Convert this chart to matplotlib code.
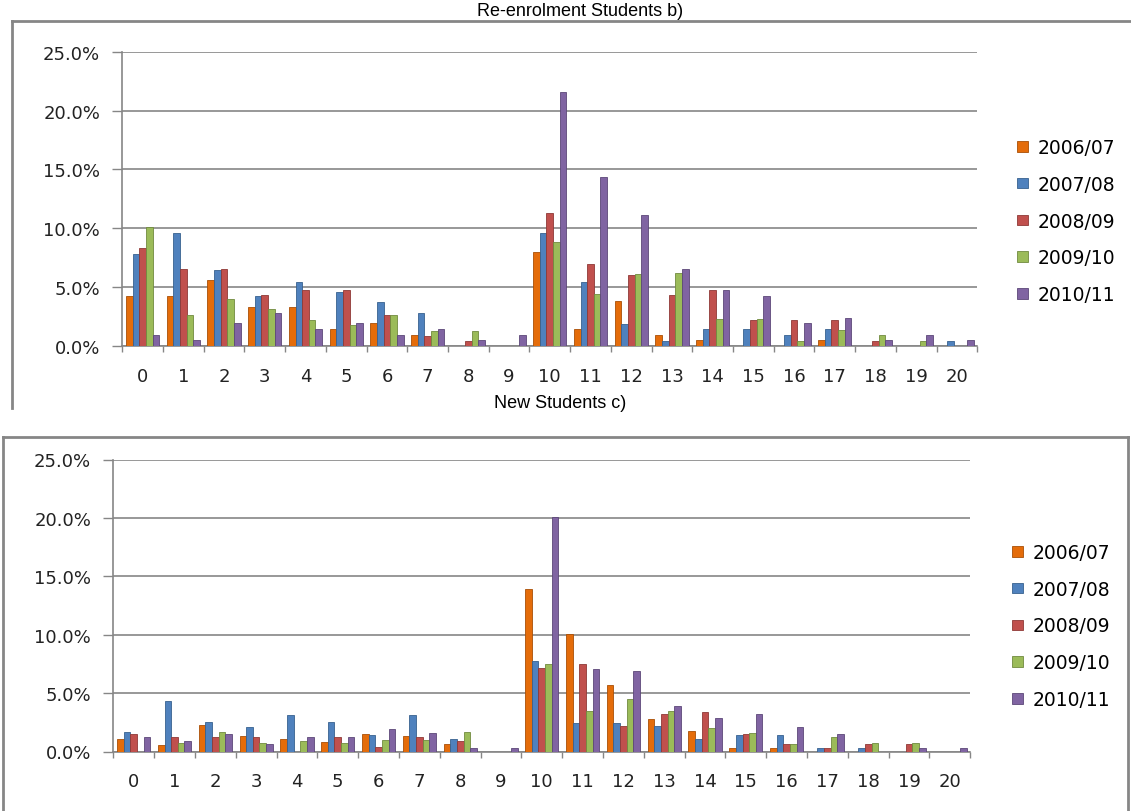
import numpy as np
import matplotlib.pyplot as plt
from matplotlib.patches import Patch
from matplotlib.lines import Line2D

# periodos y colores
years = ["2006/07", "2007/08", "2008/09", "2009/10", "2010/11"]
colors = ["#E46C0A", "#4F81BD", "#C0504D", "#9BBB59", "#8064A2"]
edges = ["#A94F06", "#38618F", "#8E3936", "#718A3F", "#5C4778"]
cats = list(range(21))

# b) Re-enrolment Students (%)
re_0607 = [4.2, 4.2, 5.55, 3.3, 3.3, 1.38, 1.9, 0.89, 0, 0, 7.96, 1.38, 3.79, 0.89, 0.52, 0, 0, 0.52, 0, 0, 0]
re_0708 = [7.84, 9.6, 6.47, 4.22, 5.46, 4.57, 3.7, 2.82, 0, 0, 9.63, 5.46, 1.81, 0.37, 1.44, 1.44, 0.95, 1.44, 0, 0, 0.43]
re_0809 = [8.28, 6.55, 6.55, 4.31, 4.74, 4.74, 2.62, 0.8, 0.37, 0, 11.3, 6.95, 6.03, 4.35, 4.78, 2.22, 2.22, 2.22, 0.43, 0, 0]
re_0910 = [10.1, 2.64, 3.97, 3.13, 2.2, 1.72, 2.61, 1.26, 1.26, 0, 8.79, 4.37, 6.12, 6.15, 2.3, 2.3, 0.43, 1.35, 0.92, 0.43, 0]
re_1011 = [0.89, 0.46, 1.9, 2.82, 1.38, 1.9, 0.89, 1.38, 0.46, 0.89, 21.6, 14.37, 11.09, 6.51, 4.7, 4.26, 1.93, 2.36, 0.52, 0.92, 0.52]

# c) New Students (%)
new_0607 = [1.06, 0.54, 2.31, 1.29, 1.06, 0.8, 1.54, 1.34, 0.6, 0, 13.92, 10.04, 5.68, 2.74, 1.79, 0.31, 0.31, 0, 0, 0, 0]
new_0708 = [1.63, 4.34, 2.51, 2.14, 3.11, 2.51, 1.37, 3.14, 1.08, 0, 7.79, 2.4, 2.4, 2.17, 1.05, 1.37, 1.37, 0.31, 0.31, 0, 0]
new_0809 = [1.54, 1.26, 1.2, 1.2, 0, 1.26, 0.37, 1.26, 0.91, 0, 7.13, 7.48, 2.17, 3.2, 3.42, 1.54, 0.63, 0.31, 0.63, 0.63, 0]
new_0910 = [0, 0.74, 1.63, 0.71, 0.94, 0.71, 1.0, 1.0, 1.65, 0, 7.48, 3.48, 4.5, 3.45, 1.97, 1.62, 0.63, 1.28, 0.71, 0.71, 0]
new_1011 = [1.2, 0.94, 1.54, 0.63, 1.2, 1.2, 1.9, 1.57, 0.34, 0.34, 20.11, 7.1, 6.85, 3.87, 2.91, 3.25, 2.11, 1.54, 0, 0.31, 0.31]

W, H = 1131, 812
GRAY = "#868686"
plt.rcParams["font.family"] = ["DejaVu Sans"]

fig = plt.figure(figsize=(W / 100, H / 100), dpi=100)

def fx(px):
    return px / W

def fy(py):
    return 1 - py / H

def draw(ax, series, leg_x, leg_y):
    x = np.arange(len(cats))
    bw = 0.163
    for k, vals in enumerate(series):
        ax.bar(x + (k - 2) * bw, vals, bw, color=colors[k], edgecolor=edges[k], linewidth=0.6, zorder=3)
    ax.set_xlim(-0.5, 20.5)
    ax.set_ylim(0, 25)
    ax.set_yticks(np.arange(0, 26, 5))
    ax.set_yticklabels([f"{v:.1f}%" for v in np.arange(0, 26, 5)], fontsize=13, color="#222222")
    ax.yaxis.grid(True, color=GRAY, linewidth=1.2, zorder=0)
    ax.tick_params(axis="y", length=7, width=1, color=GRAY, pad=9)
    ax.set_xticks(np.arange(-0.5, 21, 1))
    ax.set_xticklabels([])
    ax.set_xticks(x, minor=True)
    ax.set_xticklabels([str(c) for c in cats], minor=True, fontsize=13, color="#222222")
    ax.tick_params(axis="x", which="major", length=4, width=1, color=GRAY)
    ax.tick_params(axis="x", which="minor", length=0, pad=15)
    for s in ["top", "right"]:
        ax.spines[s].set_visible(False)
    for s in ["left", "bottom"]:
        ax.spines[s].set_color(GRAY)
        ax.spines[s].set_linewidth(1.2)
    handles = [Patch(facecolor=colors[k], edgecolor=edges[k], linewidth=0.6) for k in range(5)]
    ax.legend(handles, years, loc="center left", bbox_to_anchor=(fx(leg_x), fy(leg_y)),
              bbox_transform=fig.transFigure, frameon=False, fontsize=13.5,
              handlelength=0.6, handleheight=0.5, handletextpad=0.5,
              labelspacing=0.95, borderpad=0, borderaxespad=0)

ax1 = fig.add_axes([fx(122.3), fy(346.7), 855 / W, 293.7 / H])
draw(ax1, [re_0607, re_0708, re_0809, re_0910, re_1011], 1017, 222)

ax2 = fig.add_axes([fx(113.3), fy(752.5), 857 / W, 292 / H])
draw(ax2, [new_0607, new_0708, new_0809, new_0910, new_1011], 1012, 627)

# marcos de los graficos
frame = dict(color=GRAY, linewidth=2, transform=fig.transFigure)
fig.add_artist(Line2D([fx(12), fx(12)], [fy(22), fy(409)], **frame))
fig.add_artist(Line2D([fx(12), fx(1131)], [fy(22), fy(22)], **frame))
fig.add_artist(Line2D([fx(3), fx(3)], [fy(438), fy(812)], **frame))
fig.add_artist(Line2D([fx(3), fx(1128)], [fy(438), fy(438)], **frame))
fig.add_artist(Line2D([fx(1128), fx(1128)], [fy(438), fy(812)], **frame))

tfont = ["Liberation Sans Narrow", "Liberation Sans", "DejaVu Sans"]
fig.text(fx(580), fy(11), "Re-enrolment Students b)", ha="center", va="center", fontsize=13, family=tfont)
fig.text(fx(560), fy(404), "New Students c)", ha="center", va="center", fontsize=13, family=tfont)

fig.savefig("out.png", dpi=100)
